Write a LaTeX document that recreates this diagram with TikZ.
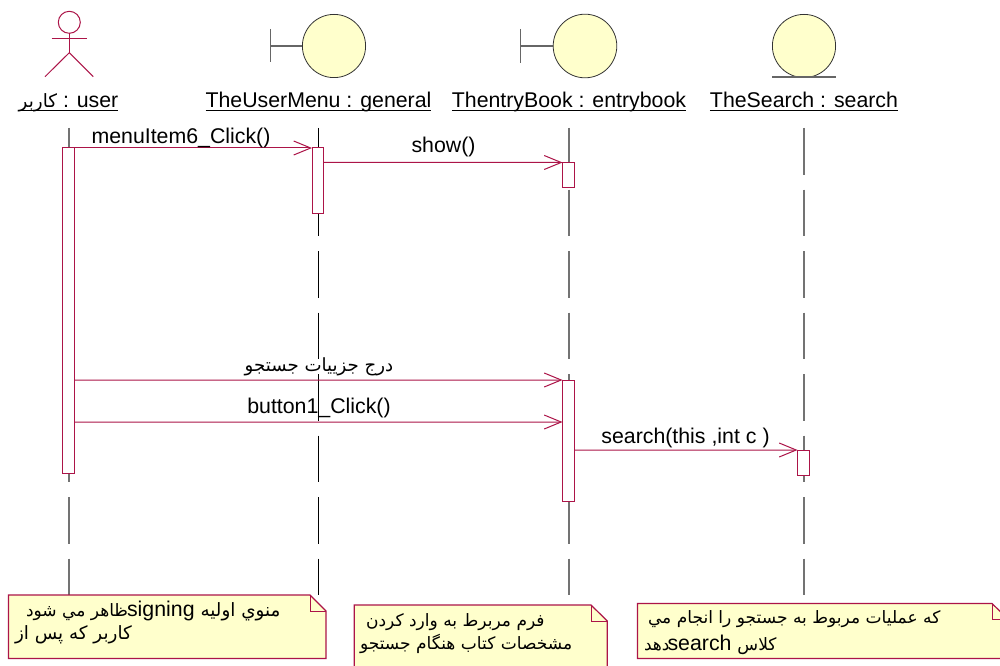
\documentclass[tikz,border=0pt]{standalone}
\usepackage{fontspec}
\setmainfont{Liberation Sans}
\newfontfamily\arabicfont[Script=Arabic,Scale=0.8]{DejaVu Sans}
\usetikzlibrary{arrows.meta}
\TeXXeTstate=1
\definecolor{rose}{RGB}{172,20,72}
\definecolor{notey}{RGB}{255,255,204}
\newcommand{\ar}[1]{{\arabicfont\beginR #1\endR}}
\newcommand{\ulbl}[1]{\setbox0\hbox{#1}\rlap{\rule[-3.4pt]{\wd0}{1.4pt}}\box0}
\newcommand{\bigfs}{\fontsize{23}{24}\selectfont}
\tikzset{
  lbl/.style={anchor=base,inner sep=0,outer sep=0,font=\fontsize{21.4}{24}\selectfont},
  notetxt/.style={anchor=base west,inner sep=0,outer sep=0,font=\fontsize{21.4}{24}\selectfont},
  lifeline/.style={draw=black!55,line width=1.5bp,dash pattern=on 46.5bp off 15bp},
  thinlife/.style={draw=black,line width=1bp,dash pattern=on 46.5bp off 15bp},
  act/.style={draw=rose,fill=white,line width=1bp,minimum width=11.5bp,inner sep=0,outer sep=0,anchor=north west},
  msg/.style={draw=rose,line width=1bp,-{Straight Barb[length=17bp,width=14bp,line width=1bp]}},
  notebox/.style={draw=rose,fill=notey,line width=1.2bp,line join=miter},
  fold/.style={draw=rose,line width=1bp},
  ball/.style={draw=black!80,fill=notey,line width=0.8bp},
  stem/.style={draw=black!60,line width=1.2bp},
  stick/.style={draw=rose,line width=1bp}
}
\begin{document}
\begin{tikzpicture}[x=1bp,y=-1bp]
\clip (0,0) rectangle (1000,666);
\fill[white] (0,0) rectangle (1000,666);

% lifelines
\coordinate (u0) at (69,128);     \coordinate (u1) at (69,595);
\coordinate (m0) at (318.5,128);  \coordinate (m1) at (318.5,595);
\coordinate (e0) at (569,128);    \coordinate (e1) at (569,595);
\coordinate (s0) at (804,128);    \coordinate (s1) at (804,595);
\draw[lifeline] (u0) -- (u1);
\draw[thinlife] (m0) -- (m1);
\draw[lifeline] (e0) -- (e1);
\draw[lifeline] (s0) -- (s1);

% actor
\draw[stick] (69.3,22.3) circle (11);
\draw[stick] (69.3,33.3) -- (69.3,52.7);
\draw[stick] (51.5,38.3) -- (87,38.3);
\draw[stick] (45,76.7) -- (69.3,52.7) -- (93.3,76.7);

% boundary 1
\draw[stem] (270.5,29) -- (270.5,62.5);
\draw[stem] (270.5,46) -- (302.5,46);
\draw[ball] (334,46) circle (31.6);
% boundary 2
\draw[stem] (520.7,29) -- (520.7,63);
\draw[stem] (520.7,46) -- (553,46);
\draw[ball] (585,46) circle (31.8);
% entity
\draw[ball] (804,46) circle (31.6);
\draw[stem] (772.3,77) -- (835.7,77);

% object labels
\node[lbl] (luser) at (68.5,108) {\ulbl{{\bigfs\ar{كاربر}} : user}};
\node[lbl] (lmenu) at (318.5,108) {\ulbl{TheUserMenu : general}};
\node[lbl] (lentry) at (569,108) {\ulbl{ThentryBook : entrybook}};
\node[lbl] (lsearch) at (804,108) {\ulbl{TheSearch : search}};

% activations
\node[act,minimum height=325bp] (a1) at (62.5,148) {};
\node[act,minimum height=65bp]  (a2) at (312,148) {};
\node[act,minimum height=25bp]  (a3) at (562.5,162.5) {};
\node[act,minimum height=121bp] (a4) at (562.5,380) {};
\node[act,minimum height=25bp]  (a5) at (797.5,450) {};

% messages
\draw[msg] (a1.north east) -- (a2.north west);
\draw[msg] ([yshift=-14.5bp]a2.north east) -- (a3.north west);
\draw[msg] ([yshift=-232bp]a1.north east) -- (a4.north west);
\draw[msg] ([yshift=-274bp]a1.north east) -- ([yshift=-42bp]a4.north west);
\draw[msg] ([yshift=-70bp]a4.north east) -- (a5.north west);

% message labels
\node[lbl] (t1) at (181,144) {menuItem6\_Click()};
\node[lbl] (t2) at (443.5,153) {show()};
\node[lbl,font=\fontsize{22.8}{24}\selectfont] (t3) at (319,371) {\ar{درج جزييات جستجو}};
\node[lbl] (t4) at (319,413) {button1\_Click()};
\node[lbl] (t5) at (685.5,443) {search(this ,int c )};

% notes
\draw[notebox] (8.5,595) -- (310,595) -- (326,611) -- (326,658.5) -- (8.5,658.5) -- cycle;
\draw[fold] (310,595) -- (310,611) -- (326,611);
\draw[notebox] (354.3,605) -- (591,605) -- (607.3,621) -- (607.3,680) -- (354.3,680) -- cycle;
\draw[fold] (591,605) -- (591,621) -- (607.3,621);
\draw[notebox] (637.5,603.5) -- (992,603.5) -- (1008,619) -- (1008,658.5) -- (637.5,658.5) -- cycle;
\draw[fold] (992,603.5) -- (992,619) -- (1008,619);

\node[notetxt] (n1a) at (26,616) {\ar{ظاهر مي شود}\hspace{-1pt}signing\hspace{6pt}{\bigfs\ar{منوي اوليه}}};
\node[notetxt] (n1b) at (15,639) {{\bigfs\ar{كاربر كه پس از}}};
\node[notetxt] (n2a) at (366,626) {\ar{فرم مربرط به وارد كردن}};
\node[notetxt] (n2b) at (360,649) {\ar{مشخصات كتاب هنگام جستجو}};
\node[notetxt] (n3a) at (648,623) {\ar{كه عمليات مربوط به جستجو را انجام مي}};
\node[notetxt] (n3b) at (644,650) {\ar{دهد}\hspace{-2pt}search \ar{كلاس}};
\end{tikzpicture}
\end{document}
